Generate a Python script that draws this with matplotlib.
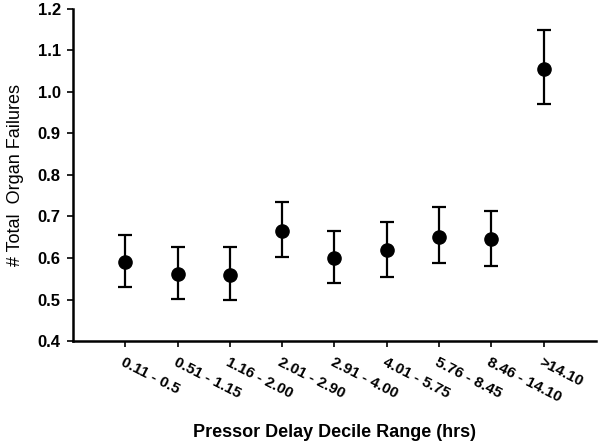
import matplotlib
matplotlib.use("Agg")
import matplotlib.pyplot as plt

plt.rcParams['font.family'] = ['Liberation Sans', 'DejaVu Sans']

categories = ["0.11 - 0.5", "0.51 - 1.15", "1.16 - 2.00", "2.01 - 2.90", "2.91 - 4.00",
              "4.01 - 5.75", "5.76 - 8.45", "8.46 - 14.10", ">14.10"]
means = [0.590, 0.561, 0.559, 0.665, 0.600, 0.619, 0.651, 0.646, 1.056]
upper = [0.655, 0.627, 0.627, 0.735, 0.665, 0.687, 0.723, 0.713, 1.149]
lower = [0.530, 0.501, 0.499, 0.603, 0.540, 0.554, 0.588, 0.581, 0.971]
yticks = [0.4, 0.5, 0.6, 0.7, 0.8, 0.9, 1.0, 1.1, 1.2]

fig = plt.figure(figsize=(6, 4.46), dpi=100)
ax = fig.add_axes([0.122, 0.2354, 0.871, 0.7446])

x = list(range(1, len(categories) + 1))
yerr = [[m - l for m, l in zip(means, lower)], [u - m for m, u in zip(means, upper)]]
ax.errorbar(x, means, yerr=yerr, fmt='o', color='black', markersize=9.5,
            elinewidth=1.6, capsize=5, capthick=1.6)

ax.set_xlim(0, 10)
ax.set_ylim(0.4, 1.2)
ax.set_yticks(yticks)
ax.set_yticklabels([f"{v:.1f}" for v in yticks], fontweight='bold', fontsize=12)
ax.set_xticks(x)
ax.set_xticklabels(categories, rotation=-27, ha='left', va='top',
                   rotation_mode='anchor', fontweight='bold', fontsize=11)
ax.tick_params(axis='both', direction='out', length=4, width=1.2, color='black')
ax.tick_params(axis='x', pad=6)
ax.tick_params(axis='y', pad=5)

for s in ['top', 'right']:
    ax.spines[s].set_visible(False)
for s in ['left', 'bottom']:
    ax.spines[s].set_linewidth(1.8)

ax.set_xlabel("Pressor Delay Decile Range (hrs)", fontweight='bold', fontsize=13, labelpad=14)
ax.set_ylabel("# Total  Organ Failures", fontsize=13, labelpad=10)

fig.savefig("out.png", dpi=100)
